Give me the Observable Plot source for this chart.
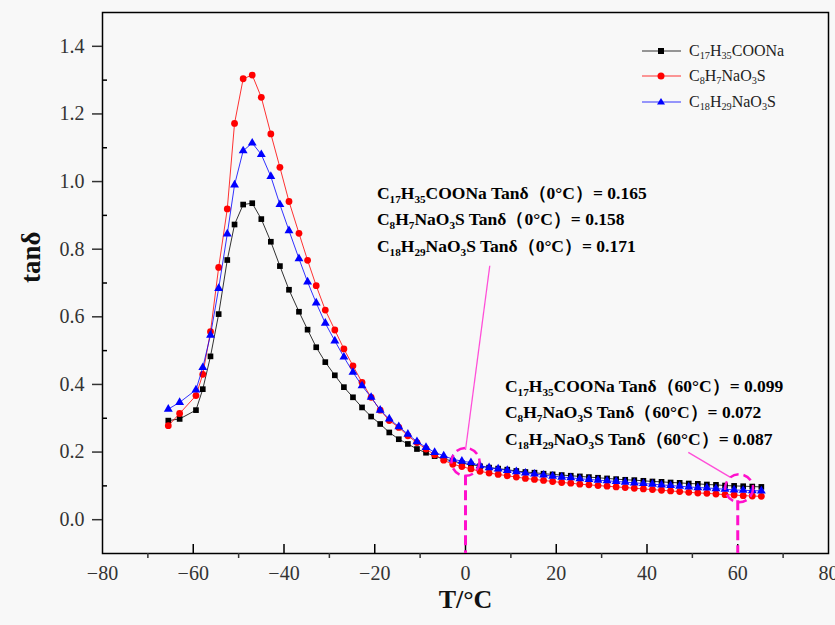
<!DOCTYPE html>
<html>
<head>
<meta charset="utf-8">
<script src="https://cdn.jsdelivr.net/npm/d3@7"></script>
<script src="https://cdn.jsdelivr.net/npm/@observablehq/plot@0.6"></script>
<style>
  html, body { margin: 0; padding: 0; background: #f8f8f8; }
  #wrap { position: relative; width: 835px; height: 625px; background: #f8f8f8; overflow: hidden; }
  #wrap svg text { font-family: "Liberation Serif", "Times New Roman", serif; }
  .ann { position: absolute; white-space: nowrap; font-family: "Liberation Serif", "Times New Roman", serif; font-weight: bold; font-size: 17.5px; line-height: 26px; color: #000; }
  .ann sub, .leg sub { font-size: 0.64em; vertical-align: -0.32em; line-height: 0; }
  .leg { position: absolute; white-space: nowrap; font-family: "Liberation Serif", "Times New Roman", serif; font-size: 16px; line-height: 20px; color: #222; display: flex; align-items: center; }
  .leg svg { margin-right: 8px; }
</style>
</head>
<body>
<div id="wrap"></div>
<script>
// ---- data ----
const temps = [-65.5, -63.0, -59.4, -57.9, -56.2, -54.4, -52.5, -50.9, -49.0, -47.0, -45.0, -42.9, -40.9, -38.9, -36.7, -34.8, -32.9, -30.9, -28.8, -26.8, -24.8, -22.8, -20.8, -18.8, -16.8, -14.7, -12.7, -10.7, -8.7, -6.8, -4.8, -2.8, -0.8, 1.2, 3.2, 5.2, 7.2, 9.2, 11.2, 13.2, 15.2, 17.2, 19.2, 21.2, 23.2, 25.2, 27.2, 29.2, 31.2, 33.2, 35.2, 37.2, 39.2, 41.2, 43.2, 45.2, 47.2, 49.2, 51.2, 53.2, 55.2, 57.2, 59.2, 61.2, 63.2, 65.2];

const tanC17 = [0.293, 0.298, 0.324, 0.386, 0.483, 0.608, 0.768, 0.873, 0.932, 0.936, 0.889, 0.822, 0.750, 0.680, 0.615, 0.562, 0.510, 0.466, 0.427, 0.392, 0.362, 0.332, 0.305, 0.283, 0.258, 0.238, 0.224, 0.209, 0.198, 0.188, 0.180, 0.173, 0.167, 0.163, 0.158, 0.154, 0.151, 0.148, 0.144, 0.141, 0.139, 0.136, 0.134, 0.132, 0.130, 0.128, 0.126, 0.124, 0.122, 0.120, 0.118, 0.117, 0.115, 0.113, 0.112, 0.110, 0.109, 0.107, 0.106, 0.104, 0.103, 0.101, 0.100, 0.099, 0.098, 0.097];

const tanC8 = [0.278, 0.314, 0.367, 0.430, 0.556, 0.746, 0.919, 1.172, 1.304, 1.315, 1.249, 1.141, 1.042, 0.941, 0.847, 0.767, 0.692, 0.620, 0.561, 0.505, 0.455, 0.406, 0.362, 0.324, 0.293, 0.273, 0.248, 0.228, 0.209, 0.192, 0.176, 0.164, 0.157, 0.150, 0.143, 0.138, 0.134, 0.130, 0.126, 0.122, 0.119, 0.116, 0.113, 0.110, 0.108, 0.105, 0.103, 0.101, 0.099, 0.097, 0.095, 0.093, 0.091, 0.089, 0.087, 0.085, 0.083, 0.081, 0.079, 0.078, 0.076, 0.074, 0.073, 0.071, 0.070, 0.069];

const tanC18 = [0.327, 0.347, 0.384, 0.450, 0.546, 0.684, 0.845, 0.990, 1.091, 1.114, 1.080, 1.015, 0.932, 0.855, 0.772, 0.703, 0.641, 0.581, 0.529, 0.481, 0.436, 0.396, 0.362, 0.324, 0.298, 0.275, 0.253, 0.231, 0.214, 0.199, 0.189, 0.179, 0.173, 0.169, 0.160, 0.154, 0.150, 0.146, 0.142, 0.138, 0.135, 0.132, 0.129, 0.126, 0.124, 0.121, 0.119, 0.117, 0.115, 0.113, 0.111, 0.109, 0.107, 0.105, 0.103, 0.101, 0.099, 0.097, 0.095, 0.094, 0.092, 0.090, 0.088, 0.087, 0.086, 0.085];

const seriesNames = ["C17H35COONa", "C8H7NaO3S", "C18H29NaO3S"];
const tanAt0 = [0.165, 0.158, 0.171];
const tanAt60 = [0.099, 0.072, 0.087];

const xLabelTicks = [-80, -60, -40, -20, 0, 20, 40, 60, 80];
const xInnerTicks = [-60, -40, -20, 0, 20, 40, 60];
const xMinorTicks = [-70, -50, -30, -10, 10, 30, 50, 70];
const yMajorTicks = [0, 0.2, 0.4, 0.6, 0.8, 1.0, 1.2, 1.4];
const yMinorTicks = [0.1, 0.3, 0.5, 0.7, 0.9, 1.1, 1.3];

// annotation geometry in data units
const guideTemps = [0, 60];
const guideTops = [0.13, 0.056];
const ringTemps = [0, 60.3];
const ringVals = [0.171, 0.093];
const arrowFrom = [[0.0, 0.206], [58.4, 0.125]];
const arrowTo = [[5.35, 0.751], [49.1, 0.199]];

// ---- build tables ----
const colors = ["#000000", "#ff0000", "#0000ff"];
const symbols = ["square", "circle", "triangle"];
const radii = [3.2, 3.4, 3.3];
const allVals = [tanC17, tanC8, tanC18];
const tables = allVals.map((vals, k) => temps.map((t, i) => ({t, v: vals[i], s: seriesNames[k]})));
const guides = guideTemps.map((t, i) => ({t, top: guideTops[i]}));
const rings = ringTemps.map((t, i) => ({t, v: ringVals[i]}));
const arrows = arrowFrom.map((a, i) => ({x1: a[0], y1: a[1], x2: arrowTo[i][0], y2: arrowTo[i][1]}));

const W = 835, H = 625, mL = 102, mR = 7, mT = 12, mB = 72;
const innerW = W - mL - mR, innerH = H - mT - mB;
const pink = "#ff10cc";
const serif = "'Liberation Serif', 'Times New Roman', serif";

const marks = [
  Plot.frame({stroke: "#000", strokeWidth: 1.5}),
  Plot.axisY({ticks: yMajorTicks, tickSize: 10, tickPadding: 8, tickFormat: d => d.toFixed(1), strokeWidth: 1.5, label: null, fontFamily: serif, fontSize: 20, fill: "#333"}),
  Plot.tickY(yMinorTicks, {y: d => d, insetRight: innerW - 5, stroke: "#000", strokeWidth: 1.5}),
  Plot.axisX({ticks: xLabelTicks, tickSize: 0, tickPadding: 12, label: null, fontFamily: serif, fontSize: 20, fill: "#333"}),
  Plot.axisX({ticks: xMinorTicks, tickSize: 5, tickFormat: () => "", strokeWidth: 1.5, label: null}),
  Plot.tickX(xInnerTicks, {x: d => d, insetTop: innerH - 9, stroke: "#000", strokeWidth: 1.5}),
  Plot.ruleX(guides, {x: "t", y1: "top", y2: -0.1, stroke: pink, strokeWidth: 3, strokeDasharray: "10,5"}),
  Plot.link(arrows, {x1: "x1", y1: "y1", x2: "x2", y2: "y2", stroke: "#ff4fd8", strokeWidth: 1.3, ariaLabel: "ann-arrow"})
];
tables.forEach((tbl, k) => {
  marks.push(Plot.line(tbl, {x: "t", y: "v", stroke: colors[k], strokeWidth: 1, strokeOpacity: 0.8}));
  marks.push(Plot.dot(tbl, {x: "t", y: "v", symbol: symbols[k], r: radii[k], fill: colors[k], stroke: "none"}));
});
marks.push(Plot.dot(rings, {x: "t", y: "v", r: 14, fill: "none", stroke: pink, strokeWidth: 2.5, strokeDasharray: "9,5"}));
marks.push(Plot.text([0], {frameAnchor: "left", dx: -71, rotate: -90, text: () => "tanδ", fontSize: 27, fontWeight: "bold", fill: "#111", fontFamily: serif}));
marks.push(Plot.text([0], {frameAnchor: "bottom", dy: 54, text: () => "T/°C", fontSize: 26, fontWeight: "bold", fill: "#111", fontFamily: serif}));

const plot = Plot.plot({
  width: W, height: H,
  marginLeft: mL, marginRight: mR, marginTop: mT, marginBottom: mB,
  x: {domain: [-80, 80]},
  y: {domain: [-0.1, 1.5]},
  style: {background: "transparent", fontFamily: serif, fontSize: "20px", color: "#333", overflow: "visible"},
  marks
});

// filled arrowheads
const ns = "http://www.w3.org/2000/svg";
const defs = document.createElementNS(ns, "defs");
defs.innerHTML = '<marker id="ahead" viewBox="0 0 10 10" refX="10" refY="5" markerWidth="10" markerHeight="9" markerUnits="userSpaceOnUse" orient="auto"><path d="M0,1L10,5L0,9z" fill="#ff4fd8"/></marker>';
plot.insertBefore(defs, plot.firstChild);
plot.querySelectorAll('g[aria-label="ann-arrow"] path').forEach(p => p.setAttribute("marker-end", "url(#ahead)"));

const wrap = document.getElementById("wrap");
wrap.appendChild(plot);

const sub = s => s.replace(/(\d+)/g, "<sub>$1</sub>");
const xs = plot.scale("x"), ys = plot.scale("y");

// annotation text blocks (anchored in data units)
const blocks = [
  {t: -19.4, v: 0.949, temp: "0°C", vals: tanAt0},
  {t: 8.8, v: 0.378, temp: "60°C", vals: tanAt60}
];
blocks.forEach(b => {
  const left = xs.apply(b.t), base = ys.apply(b.v);
  seriesNames.forEach((n, i) => {
    const d = document.createElement("div");
    d.className = "ann";
    d.style.left = left + "px";
    d.style.top = (base - 18.7 + i * 26.7) + "px";
    d.innerHTML = `${sub(n)} Tanδ（${b.temp}）= ${b.vals[i].toFixed(3)}`;
    wrap.appendChild(d);
  });
});

// legend
seriesNames.forEach((n, i) => {
  const d = document.createElement("div");
  d.className = "leg";
  d.style.left = "642px";
  d.style.top = (40.7 + i * 25.5) + "px";
  const sym = symbols[i] === "square" ? `<rect x="16" y="3" width="6" height="6" fill="${colors[i]}"/>`
    : symbols[i] === "circle" ? `<circle cx="19" cy="6" r="3.5" fill="${colors[i]}"/>`
    : `<path d="M19,2 L23,8.5 L15,8.5 Z" fill="${colors[i]}"/>`;
  d.innerHTML = `<svg width="39" height="12"><line x1="0" y1="6" x2="39" y2="6" stroke="${colors[i]}" stroke-width="1" stroke-opacity="0.8"/>${sym}</svg><span>${sub(n)}</span>`;
  wrap.appendChild(d);
});
</script>
</body>
</html>
